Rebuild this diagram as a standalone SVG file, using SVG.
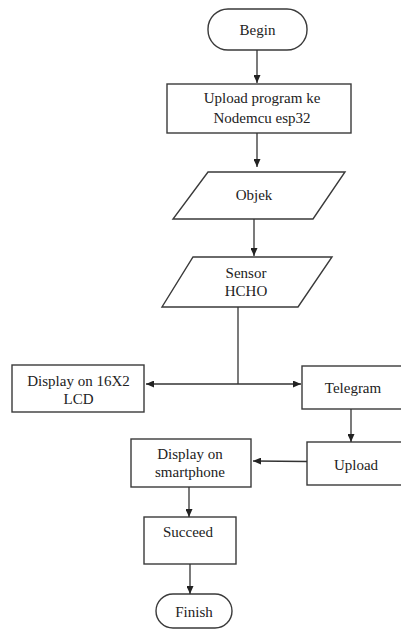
<svg xmlns="http://www.w3.org/2000/svg" width="401" height="631" viewBox="0 0 401 631">
<style>
.s{fill:#fff;stroke:#3a3a3a;stroke-width:1.4}
.t{font-family:'Liberation Serif','Times New Roman','DejaVu Serif',serif;font-size:15px;fill:#222;text-anchor:middle}
.c{fill:none;stroke:#333;stroke-width:1.3}
</style>
<defs>
<marker id="ah" markerUnits="userSpaceOnUse" markerWidth="8" markerHeight="7" refX="8" refY="3.5" orient="auto">
<path d="M0,0 L8,3.5 L0,7 z" fill="#222"/>
</marker>
</defs>
<rect width="401" height="631" fill="#fff"/>
<g id="begin"><rect class="s" x="208" y="9" width="99" height="41" rx="20"/><text class="t" x="257.5" y="35" font-family="Liberation Serif, serif">Begin</text></g>
<g id="upload-program"><rect class="s" x="167" y="84" width="184" height="49"/><text class="t" x="262" y="103">Upload program ke</text><text class="t" x="262" y="123">Nodemcu esp32</text></g>
<g id="objek"><polygon class="s" points="208,172 345,172 313,219 173,219"/><text class="t" x="254" y="200">Objek</text></g>
<g id="sensor"><polygon class="s" points="193,257 332,257 298,307 162,307"/><text class="t" x="246" y="278">Sensor</text><text class="t" x="246" y="296">HCHO</text></g>
<g id="lcd"><rect class="s" x="12" y="365" width="132" height="47"/><text class="t" x="78.5" y="386">Display on 16X2</text><text class="t" x="78.5" y="404">LCD</text></g>
<g id="telegram"><rect class="s" x="302" y="366" width="102" height="43"/><text class="t" x="353" y="393">Telegram</text></g>
<g id="upload"><rect class="s" x="307" y="442" width="97" height="43"/><text class="t" x="356" y="470">Upload</text></g>
<g id="smartphone"><rect class="s" x="131" y="439" width="120" height="48"/><text class="t" x="190" y="459">Display on</text><text class="t" x="190" y="477">smartphone</text></g>
<g id="succeed"><rect class="s" x="144" y="517" width="92" height="47"/><text class="t" x="188" y="537">Succeed</text></g>
<g id="finish"><rect class="s" x="156" y="594" width="76" height="34" rx="17"/><text class="t" x="194" y="617">Finish</text></g>
<g id="connectors">
<line class="c" x1="257" y1="50" x2="257" y2="83" marker-end="url(#ah)"/>
<line class="c" x1="257" y1="133" x2="257" y2="167" marker-end="url(#ah)"/>
<line class="c" x1="254" y1="219" x2="254" y2="256" marker-end="url(#ah)"/>
<line class="c" x1="238" y1="307" x2="238" y2="384"/>
<line class="c" x1="238" y1="384" x2="146" y2="384" marker-end="url(#ah)"/>
<line class="c" x1="238" y1="384" x2="301" y2="384" marker-end="url(#ah)"/>
<line class="c" x1="351" y1="409" x2="351" y2="442" marker-end="url(#ah)"/>
<line class="c" x1="307" y1="461.5" x2="253" y2="461" marker-end="url(#ah)"/>
<line class="c" x1="189" y1="487" x2="189" y2="517" marker-end="url(#ah)"/>
<line class="c" x1="190" y1="564" x2="190" y2="594" marker-end="url(#ah)"/>
</g>
</svg>
